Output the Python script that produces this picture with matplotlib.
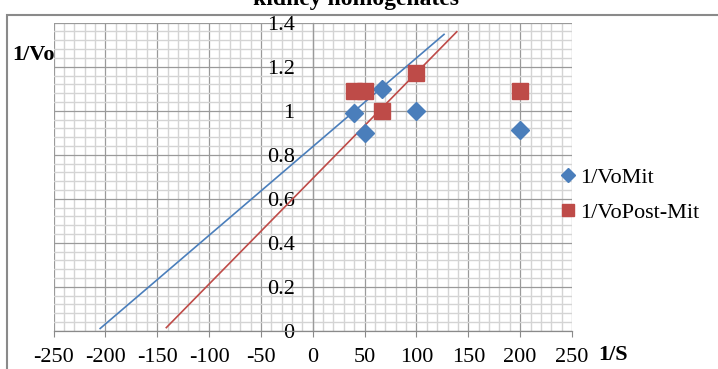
import matplotlib
matplotlib.use("Agg")
import matplotlib.pyplot as plt
from matplotlib.patches import Rectangle
from matplotlib.ticker import MultipleLocator

plt.rcParams["font.family"] = ["Liberation Serif", "DejaVu Serif"]

# data
inv_s = [40, 50, 66.7, 100, 200]
inv_vo_mit = [0.99, 0.90, 1.10, 1.00, 0.91]
inv_vo_post = [1.09, 1.09, 1.00, 1.17, 1.09]

# trendline end points (1/S, 1/Vo)
trend_mit_x = [-205, 126.6]
trend_mit_y = [0.01, 1.347]
trend_post_x = [-141.2, 138.9]
trend_post_y = [0.014, 1.359]

xticks = [-250, -200, -150, -100, -50, 0, 50, 100, 150, 200, 250]
yticks = [0, 0.2, 0.4, 0.6, 0.8, 1, 1.2, 1.4]
ytick_labels = ["0", "0.2", "0.4", "0.6", "0.8", "1", "1.2", "1.4"]

blue = "#4a7ebb"
red = "#be4b48"

W, H = 718, 369
fig = plt.figure(figsize=(W / 100, H / 100), dpi=100)

# outer chart frame (partly cut off like the reference)
fig.patches.append(Rectangle((7 / W, -0.2), 1.2, 1.2 - 14.7 / H,
                             transform=fig.transFigure, fill=False,
                             edgecolor="#8a8a8a", lw=1.5))

left, right = 53.5, 572.0
ax = fig.add_axes([left / W, (H - 330.7) / H, (right - left) / W, (330.7 - 22.7) / H])
ax.set_xlim(-250, 250)
ax.set_ylim(0, 1.4)

ax.xaxis.set_major_locator(MultipleLocator(50))
ax.xaxis.set_minor_locator(MultipleLocator(10))
ax.yaxis.set_major_locator(MultipleLocator(0.2))
ax.yaxis.set_minor_locator(MultipleLocator(0.04))
ax.grid(which="minor", color="#d4d4d4", lw=1.0)
ax.grid(which="major", color="#9a9a9a", lw=0.9)
ax.set_axisbelow(True)

for s in ["top", "right"]:
    ax.spines[s].set_visible(False)
ax.spines["left"].set_position(("data", 0))
ax.spines["left"].set_color("#9a9a9a")
ax.spines["left"].set_linewidth(0.9)
ax.spines["bottom"].set_color("#8a8a8a")
ax.spines["bottom"].set_linewidth(0.9)

ax.set_xticks(xticks)
ax.set_xticklabels([str(v) for v in xticks])
ax.set_yticks(yticks)
ax.set_yticklabels(ytick_labels)
ax.tick_params(axis="x", which="major", length=4.5, color="#8a8a8a", width=0.8,
               pad=8, labelsize=16)
ax.tick_params(axis="y", which="major", length=0, pad=13, labelsize=16)
ax.tick_params(which="minor", length=0)

ax.plot(trend_mit_x, trend_mit_y, color=blue, lw=1.2, zorder=3)
ax.plot(trend_post_x, trend_post_y, color=red, lw=1.2, zorder=3)
ax.plot(inv_s, inv_vo_mit, ls="none", marker="D", ms=9.5, color=blue,
        label="1/VoMit", zorder=4, clip_on=False)
ax.plot(inv_s, inv_vo_post, ls="none", marker="s", ms=11, color=red,
        label="1/VoPost-Mit", zorder=4, clip_on=False)

fig.legend(loc="upper left", bbox_to_anchor=(550 / W, 1 - 156 / H),
           frameon=False, fontsize=16, handlelength=0.6, handletextpad=0.25,
           labelspacing=0.65, borderpad=0, markerscale=0.8)

fig.text(12 / W, 1 - 55 / H, "1/Vo", fontsize=16, fontweight="bold",
         ha="left", va="center")
fig.text(598 / W, 1 - 355 / H, "1/S", fontsize=16, fontweight="bold",
         ha="left", va="center")
fig.text(356 / W, 1 - 5 / H, "kidney homogenates", fontsize=17,
         fontweight="bold", ha="center", va="baseline")

fig.savefig("out.png", dpi=100)
